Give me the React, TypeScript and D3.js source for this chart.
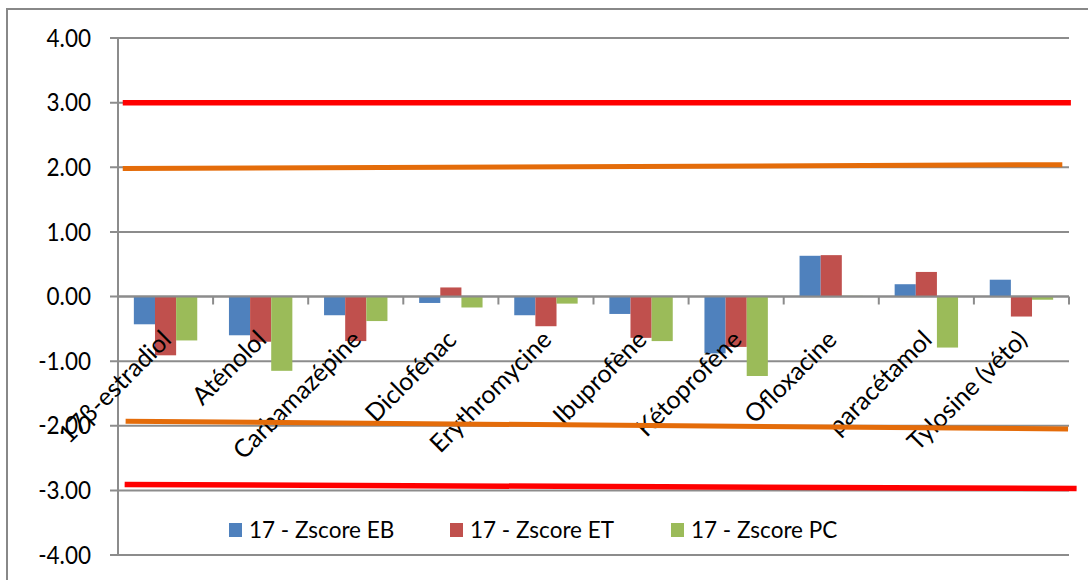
import React from "react";
import * as d3 from "d3";

const categories = [
  "17β-estradiol",
  "Aténolol",
  "Carbamazépine",
  "Diclofénac",
  "Erythromycine",
  "Ibuprofène",
  "Kétoprofène",
  "Ofloxacine",
  "paracétamol",
  "Tylosine (véto)",
];
const seriesNames = ["17 - Zscore EB", "17 - Zscore ET", "17 - Zscore PC"];
const zscoreEB = [-0.43, -0.6, -0.29, -0.1, -0.29, -0.27, -0.88, 0.63, 0.19, 0.26];
const zscoreET = [-0.91, -0.7, -0.69, 0.14, -0.46, -0.64, -0.78, 0.64, 0.38, -0.31];
const zscorePC = [-0.68, -1.15, -0.38, -0.17, -0.11, -0.69, -1.23, 0.01, -0.79, -0.05];
const seriesColors = ["#4F81BD", "#C0504D", "#9BBB59"];
const yTicks = [4, 3, 2, 1, 0, -1, -2, -3, -4];

// limit lines: [x start (category units), y start, x end, y end]
const limitRedTop = [0.05, 3.0, 10.02, 3.0];
const limitOrangeTop = [0.05, 1.98, 9.93, 2.04];
const limitOrangeBottom = [0.08, -1.93, 9.99, -2.05];
const limitRedBottom = [0.07, -2.91, 10.08, -2.97];

export default function App() {
  const W = 1088;
  const H = 580;
  const left = 118;
  const right = 1069;
  const top = 38;
  const bottom = 555;

  const y = d3.scaleLinear().domain([-4, 4]).range([bottom, top]);
  const x0 = d3.scaleBand<string>().domain(categories).range([left, right]).padding(0);
  const x1 = d3
    .scaleBand<string>()
    .domain(seriesNames)
    .range([0, x0.bandwidth()])
    .paddingInner(0)
    .paddingOuter(0.75);
  const xc = d3.scaleLinear().domain([0, categories.length]).range([left, right]);

  const allSeries = [zscoreEB, zscoreET, zscorePC];
  const grid = "#8c8c8c";
  const font = "Lato, 'Noto Sans', sans-serif";

  const limits = [
    { d: limitRedTop, c: "#FF0000", w: 5.5 },
    { d: limitOrangeTop, c: "#E46C0A", w: 5 },
    { d: limitOrangeBottom, c: "#E46C0A", w: 5 },
    { d: limitRedBottom, c: "#FF0000", w: 5.5 },
  ];

  const legendX = [229, 450, 671];

  return (
    <svg
      width={W}
      height={H}
      style={{ position: "absolute", left: 0, top: 0, background: "#fff" }}
      fontFamily={font}
    >
      <rect x={7} y={9} width={W} height={H} fill="#fff" stroke="#888" strokeWidth={2} />
      {/* gridlines */}
      {yTicks.map((t) => (
        <line key={"g" + t} x1={left - 8} x2={right} y1={y(t)} y2={y(t)} stroke={grid} strokeWidth={2} />
      ))}
      {/* y axis */}
      <line x1={left} x2={left} y1={top} y2={bottom} stroke={grid} strokeWidth={2} />
      {yTicks.map((t) => (
        <text
          key={"t" + t}
          x={91}
          y={y(t)}
          dy="0.36em"
          textAnchor="end"
          fontSize={22.5}
          fill="#000"
          transform={`translate(0,${y(t)}) scale(1,1.08) translate(0,${-y(t)})`}
        >
          {t.toFixed(2)}
        </text>
      ))}
      {/* bars */}
      {categories.map((c, i) => (
        <g key={c} transform={`translate(${x0(c)},0)`}>
          {allSeries.map((s, j) => {
            const v = s[i];
            const y0 = y(0);
            const yv = y(v);
            return (
              <rect
                key={j}
                x={x1(seriesNames[j])}
                y={Math.min(y0, yv)}
                width={x1.bandwidth()}
                height={Math.max(Math.abs(yv - y0), 0.8)}
                fill={seriesColors[j]}
              />
            );
          })}
        </g>
      ))}
      {/* category tick marks on zero line */}
      {d3.range(categories.length + 1).map((k) => (
        <line key={"ct" + k} x1={xc(k)} x2={xc(k)} y1={y(0)} y2={y(0) + 8} stroke={grid} strokeWidth={2} />
      ))}
      <line x1={left} x2={right} y1={y(0)} y2={y(0)} stroke={grid} strokeWidth={2} />
      {/* category labels */}
      {categories.map((c) => {
        const cx = (x0(c) as number) + x0.bandwidth() / 2;
        return (
          <text
            key={"l" + c}
            transform={`translate(${cx + 1},335) rotate(-45)`}
            textAnchor="end"
            dy="0.35em"
            fontSize={25}
            fill="#000"
          >
            {c}
          </text>
        );
      })}
      {/* limit lines */}
      {limits.map((l, i) => (
        <line
          key={"lim" + i}
          x1={xc(l.d[0])}
          y1={y(l.d[1])}
          x2={xc(l.d[2])}
          y2={y(l.d[3])}
          stroke={l.c}
          strokeWidth={l.w}
        />
      ))}
      {/* legend */}
      {seriesNames.map((s, i) => (
        <g key={"lg" + s}>
          <rect x={legendX[i]} y={523} width={13} height={14} fill={seriesColors[i]} />
          <text
            x={legendX[i] + 20}
            y={538}
            fontSize={22.5}
            fill="#000"
          >
            {s}
          </text>
        </g>
      ))}
    </svg>
  );
}
